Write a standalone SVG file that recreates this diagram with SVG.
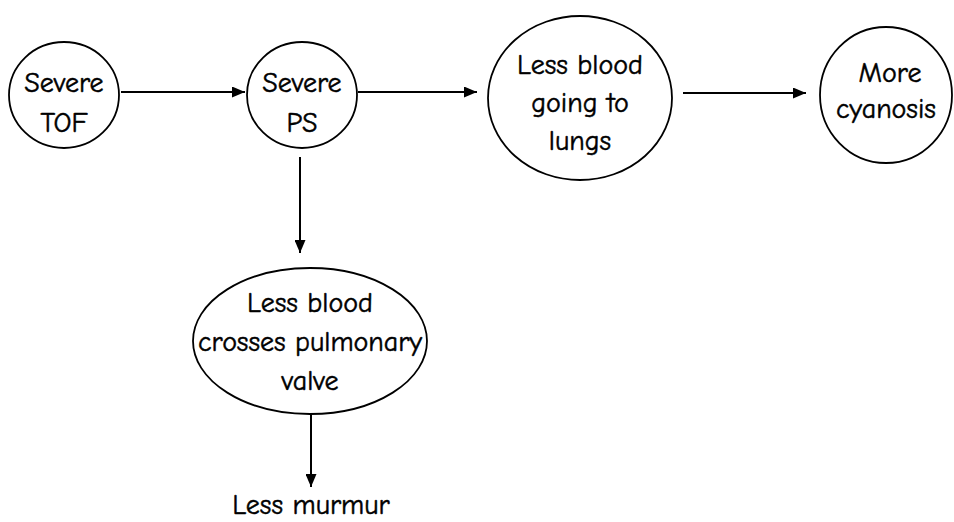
<svg xmlns="http://www.w3.org/2000/svg" width="954" height="522" viewBox="0 0 954 522">
  <style>
    .node { fill: #fff; stroke: #000; stroke-width: 1.8; }
    .lbl { font-family: "Comic Sans MS", "Comic Neue", "DejaVu Sans", sans-serif; font-size: 28px; fill: #000; stroke: #000; stroke-width: 0.5; text-anchor: middle; }
    .edge { stroke: #000; stroke-width: 2; fill: none; marker-end: url(#arrow); }
  </style>
  <defs>
    <marker id="arrow" viewBox="0 0 13 11" refX="13" refY="5.5" markerWidth="13" markerHeight="11" markerUnits="userSpaceOnUse" orient="auto">
      <path d="M0,0 L13,5.5 L0,11 Z" fill="#000"/>
    </marker>
  </defs>
  <rect width="954" height="522" fill="#fff"/>

  <!-- arrows between the nodes -->
  <g id="connectors">
    <line class="edge" x1="121" y1="92" x2="245" y2="92"/>
    <line class="edge" x1="358" y1="92" x2="477" y2="92"/>
    <line class="edge" x1="683" y1="93" x2="806" y2="93"/>
    <line class="edge" x1="300" y1="157" x2="300" y2="253"/>
    <line class="edge" x1="311" y1="415" x2="311" y2="487"/>
  </g>

  <g id="severe-tof">
    <ellipse class="node" cx="64" cy="95" rx="55" ry="53"/>
    <text class="lbl" x="64" y="92">Severe</text>
    <text class="lbl" x="64" y="132">TOF</text>
  </g>

  <g id="severe-ps">
    <ellipse class="node" cx="302" cy="95" rx="55" ry="53"/>
    <text class="lbl" x="302" y="92">Severe</text>
    <text class="lbl" x="302" y="132">PS</text>
  </g>

  <g id="less-blood-lungs">
    <ellipse class="node" cx="580" cy="98" rx="92" ry="82"/>
    <text class="lbl" x="580" y="74">Less blood</text>
    <text class="lbl" x="580" y="112">going to</text>
    <text class="lbl" x="580" y="150">lungs</text>
  </g>

  <g id="more-cyanosis">
    <ellipse class="node" cx="886" cy="95" rx="66" ry="68"/>
    <text class="lbl" x="890" y="82">More</text>
    <text class="lbl" x="886" y="118">cyanosis</text>
  </g>

  <g id="less-blood-valve">
    <ellipse class="node" cx="310" cy="341" rx="117" ry="73"/>
    <text class="lbl" x="310" y="312">Less blood</text>
    <text class="lbl" x="310" y="351">crosses pulmonary</text>
    <text class="lbl" x="310" y="390">valve</text>
  </g>

  <g id="less-murmur">
    <text class="lbl" x="311" y="514">Less murmur</text>
  </g>
</svg>
